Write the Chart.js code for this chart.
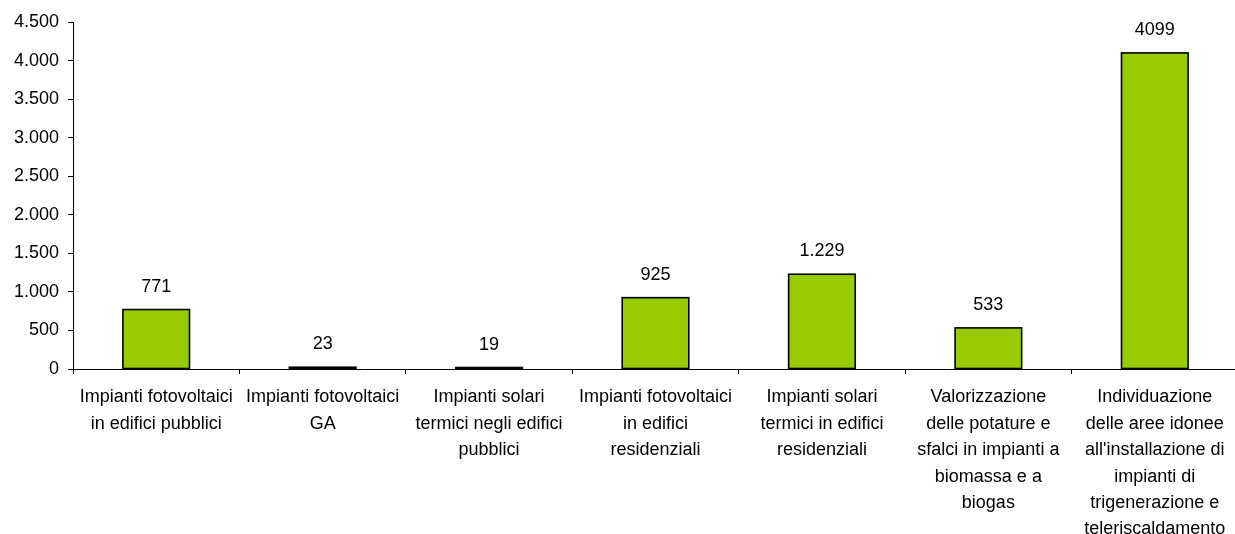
<!DOCTYPE html>
<html>
<head>
<meta charset="utf-8">
<script src="https://cdn.jsdelivr.net/npm/chart.js@4.4.1/dist/chart.umd.min.js"></script>
<style>
  html, body { margin: 0; padding: 0; background: #fff; overflow: hidden; }
  #wrap { width: 1240px; height: 534px; position: relative; }
</style>
</head>
<body>
<div id="wrap"><canvas id="c"></canvas></div>
<script>
// Interventi sulle fonti rinnovabili
const categories = [
  ["Impianti fotovoltaici", "in edifici pubblici"],
  ["Impianti fotovoltaici", "GA"],
  ["Impianti solari", "termici negli edifici", "pubblici"],
  ["Impianti fotovoltaici", "in edifici", "residenziali"],
  ["Impianti solari", "termici in edifici", "residenziali"],
  ["Valorizzazione", "delle potature e", "sfalci in impianti a", "biomassa e a", "biogas"],
  ["Individuazione", "delle aree idonee", "all'installazione di", "impianti di", "trigenerazione e", "teleriscaldamento"]
];
const values = [771, 23, 19, 925, 1229, 533, 4099];
const valueLabels = ["771", "23", "19", "925", "1.229", "533", "4099"];
const yTicks = [0, 500, 1000, 1500, 2000, 2500, 3000, 3500, 4000, 4500];

const FONT = "'Liberation Sans', Arial, sans-serif";

function itNumber(v) {
  return String(v).replace(/\B(?=(\d{3})+(?!\d))/g, ".");
}

// Black outline around each bar, centred on the bar edge so that even
// very short bars remain visible as a dark strip.
const barOutlinePlugin = {
  id: "barOutline",
  afterDatasetsDraw(chart) {
    const ctx = chart.ctx;
    const meta = chart.getDatasetMeta(0);
    ctx.save();
    ctx.strokeStyle = "#000";
    ctx.lineWidth = 1.6;
    ctx.lineJoin = "miter";
    meta.data.forEach((bar) => {
      const left = bar.x - bar.width / 2;
      const top = Math.min(bar.y, bar.base);
      const h = Math.abs(bar.base - bar.y);
      ctx.strokeRect(left, top, bar.width, h);
    });
    ctx.restore();
  }
};

const valueLabelPlugin = {
  id: "valueLabels",
  afterDatasetsDraw(chart) {
    const ctx = chart.ctx;
    const meta = chart.getDatasetMeta(0);
    ctx.save();
    ctx.font = "18px " + FONT;
    ctx.fillStyle = "#000";
    ctx.textAlign = "center";
    ctx.textBaseline = "middle";
    meta.data.forEach((bar, i) => {
      ctx.fillText(valueLabels[i], bar.x, bar.y - 23);
    });
    ctx.restore();
  }
};

new Chart(document.getElementById("c"), {
  type: "bar",
  data: {
    labels: categories,
    datasets: [{
      data: values,
      backgroundColor: "#99CC00",
      borderWidth: 0,
      inflateAmount: 0,
      barPercentage: 0.4,
      categoryPercentage: 1.0
    }]
  },
  options: {
    responsive: true,
    maintainAspectRatio: false,
    animation: false,
    events: [],
    layout: { padding: { top: 22, right: 2, left: 0, bottom: 0 } },
    plugins: {
      legend: { display: false },
      tooltip: { enabled: false }
    },
    scales: {
      x: {
        grid: {
          offset: true,
          drawOnChartArea: false,
          drawTicks: true,
          tickLength: 5,
          color: "#000"
        },
        border: { display: true, color: "#000", width: 1 },
        ticks: {
          color: "#000",
          font: { family: FONT, size: 18, lineHeight: 1.47 },
          padding: 10,
          maxRotation: 0,
          autoSkip: false
        },
        afterFit(scale) { scale.height = 165; }
      },
      y: {
        min: 0,
        max: 4500,
        afterBuildTicks(scale) {
          scale.ticks = yTicks.map(v => ({ value: v }));
        },
        grid: {
          drawOnChartArea: false,
          drawTicks: true,
          tickLength: 5,
          color: "#000"
        },
        border: { display: true, color: "#000", width: 1 },
        ticks: {
          color: "#000",
          font: { family: FONT, size: 18 },
          padding: 9,
          callback: (v) => itNumber(v)
        },
        afterFit(scale) { scale.width = 73; }
      }
    }
  },
  plugins: [barOutlinePlugin, valueLabelPlugin]
});
</script>
</body>
</html>
